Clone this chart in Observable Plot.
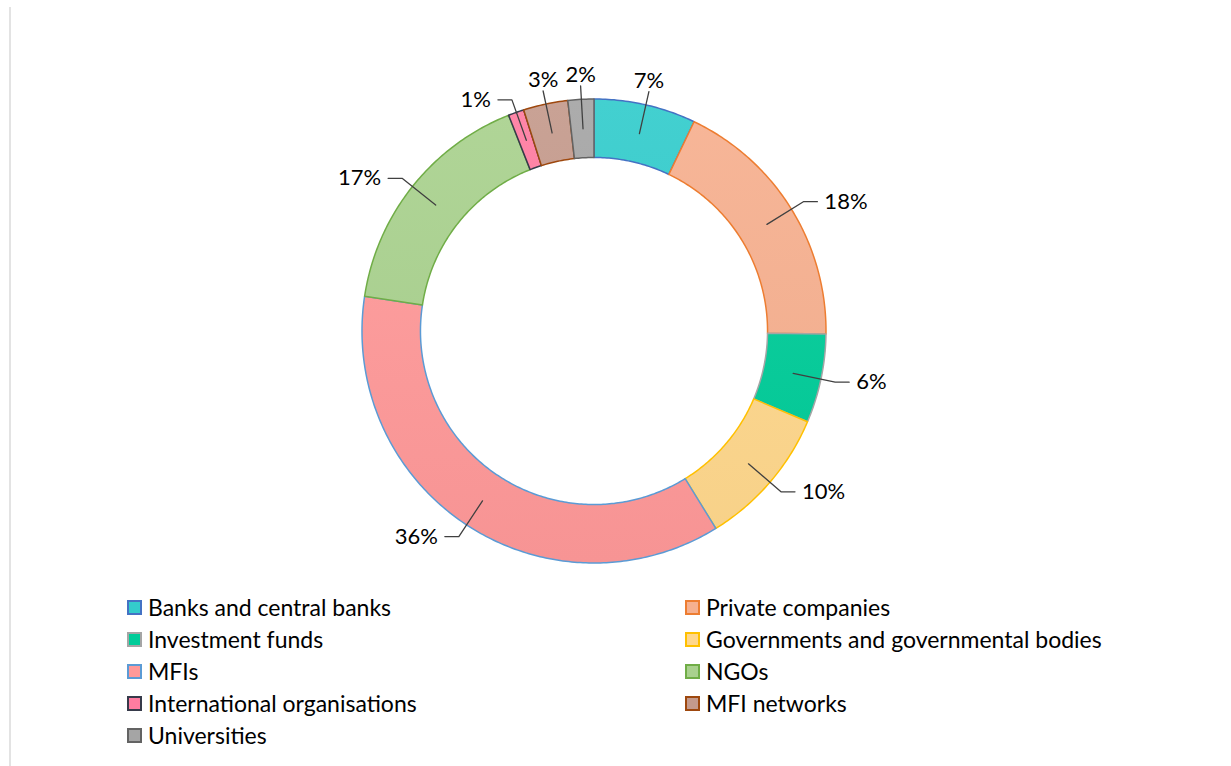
<!DOCTYPE html>
<html><head><meta charset="utf-8">
<script src="https://cdn.jsdelivr.net/npm/d3@7"></script>
<script src="https://cdn.jsdelivr.net/npm/@observablehq/plot@0.6"></script>
<style>
body{margin:0;background:#fff;font-family:Lato,sans-serif;}
#wrap{position:relative;width:1231px;height:766px;overflow:hidden;background:#fff;}
#frame{position:absolute;left:9px;top:7px;width:2px;bottom:0;background:#e3e3e3;}
#chart{position:absolute;left:0;top:0;}
#legend{position:absolute;left:127px;top:591px;display:grid;grid-template-columns:558px auto;grid-auto-rows:32px;font-size:23px;color:#000;}
.item{display:flex;align-items:center;white-space:nowrap;}
.sw{width:11px;height:11px;border:2px solid;margin-right:6px;flex:none;}
</style></head><body>
<div id="wrap"><div id="frame"></div><div id="chart"></div><div id="legend"></div></div>
<script>
const categories = ["Banks and central banks","Private companies","Investment funds","Governments and governmental bodies","MFIs","NGOs","International organisations","MFI networks","Universities"];
const shares = [7.1, 18.1, 6.2, 9.8, 36.2, 16.6, 1.1, 3.1, 1.8];
const fillColors = ["#33CCCC","#F6B08F","#00CC99","#FFD78C","#FF9999","#A9D18E","#FF7CA0","#C49A8C","#A5A5A5"];
const strokeColors = ["#4472C4","#ED7D31","#A5A5A5","#FFC000","#5B9BD5","#70AD47","#363A4A","#9E480E","#636363"];

const W = 1231, H = 580, CX = 594, CY = 331, R = 232;
const R0 = 0.748, R1 = 1.0;
const FS = 22;
const total = d3.sum(shares);
const pct = d3.format(".0%");

const ctx = document.createElement("canvas").getContext("2d");
ctx.font = `${FS}px Lato`;
const textW = t => ctx.measureText(t).width;

const rows = [], slices = [];
let cum = 0;
categories.forEach((cat, i) => {
  const a0 = cum / total * 2 * Math.PI;
  cum += shares[i];
  const a1 = cum / total * 2 * Math.PI;
  const N = Math.max(8, Math.ceil((a1 - a0) * 80));
  for (let k = 0; k <= N; k++) {
    const a = a0 + (a1 - a0) * k / N;
    rows.push({cat, ix: R0 * Math.sin(a), iy: R0 * Math.cos(a), ox: R1 * Math.sin(a), oy: R1 * Math.cos(a)});
  }
  const m = (a0 + a1) / 2;
  slices.push({cat, m, s: Math.sin(m), c: Math.cos(m), text: pct(shares[i] / total)});
});

// label layout: side labels get an elbow, top labels sit above; crowded top labels move to the side
const leaders = [], labelsL = [], labelsR = [], labelsT = [];
slices.forEach(d => {
  d.C = [0.875 * d.s, 0.875 * d.c];
  d.E = [1.06 * d.s, 1.06 * d.c];
  d.side = Math.abs(d.s) > 0.45 ? Math.sign(d.s) : 0;
});
const tops = slices.filter(d => !d.side).sort((a, b) => b.E[0] - a.E[0]);
let prev = tops[0];
for (let j = 1; j < tops.length; j++) {
  const a = tops[j];
  const aRight = a.E[0] * R + textW(a.text) / 2, bLeft = prev.E[0] * R - textW(prev.text) / 2;
  if (aRight + 1 > bLeft) a.side = Math.sign(a.s) || -1;
  else prev = a;
}
slices.forEach(d => {
  const {cat, C, E, text} = d;
  if (d.side) {
    const Hx = E[0] + d.side * 14 / R;
    leaders.push({cat, x: C[0], y: C[1]}, {cat, x: E[0], y: E[1]}, {cat, x: Hx, y: E[1]});
    (d.side > 0 ? labelsR : labelsL).push({text, x: Hx + d.side * 7 / R, y: E[1]});
  } else {
    leaders.push({cat, x: C[0], y: C[1]}, {cat, x: E[0], y: E[1]});
    labelsT.push({text, x: E[0], y: E[1] + Math.sign(d.c) * 11 / R});
  }
});

const gradIds = categories.map((_, i) => `slice-grad-${i}`);
const marks = categories.map((cat, i) =>
  Plot.area(rows.filter(r => r.cat === cat), {x1: "ix", y1: "iy", x2: "ox", y2: "oy", fill: "cat", stroke: strokeColors[i], strokeWidth: 1.5})
);
marks.push(Plot.line(leaders, {x: "x", y: "y", z: "cat", stroke: "#404040", strokeWidth: 1.3}));
const tOpts = {x: "x", y: "y", text: "text", fontSize: FS, fill: "#000"};
marks.push(Plot.text(labelsR, {...tOpts, textAnchor: "start"}));
marks.push(Plot.text(labelsL, {...tOpts, textAnchor: "end"}));
marks.push(Plot.text(labelsT, {...tOpts, textAnchor: "middle"}));

const chart = Plot.plot({
  width: W, height: H,
  marginLeft: 0, marginRight: 0, marginTop: 0, marginBottom: 0,
  x: {domain: [-CX / R, (W - CX) / R], axis: null},
  y: {domain: [-(H - CY) / R, CY / R], axis: null},
  color: {domain: categories, range: gradIds.map(id => `url(#${id})`)},
  style: {fontFamily: "Lato, sans-serif", background: "transparent"},
  marks
});

// gentle vertical shading like the original (slightly lighter at the top)
const svg = d3.select(chart.tagName.toLowerCase() === "svg" ? chart : chart.querySelector("svg"));
const defs = svg.insert("defs", ":first-child");
fillColors.forEach((col, i) => {
  const g = defs.append("linearGradient").attr("id", gradIds[i])
    .attr("gradientUnits", "userSpaceOnUse")
    .attr("x1", 0).attr("x2", 0).attr("y1", CY - R).attr("y2", CY + R);
  g.append("stop").attr("offset", 0).attr("stop-color", d3.interpolateRgb(col, "#fff")(0.08));
  g.append("stop").attr("offset", 1).attr("stop-color", d3.interpolateRgb(col, "#000")(0.03));
});
document.getElementById("chart").appendChild(chart);

const legend = document.getElementById("legend");
categories.forEach((cat, i) => {
  const it = document.createElement("div");
  it.className = "item";
  const sw = document.createElement("span");
  sw.className = "sw";
  sw.style.background = fillColors[i];
  sw.style.borderColor = strokeColors[i];
  it.appendChild(sw);
  it.appendChild(document.createTextNode(cat));
  legend.appendChild(it);
});
</script>
</body></html>
